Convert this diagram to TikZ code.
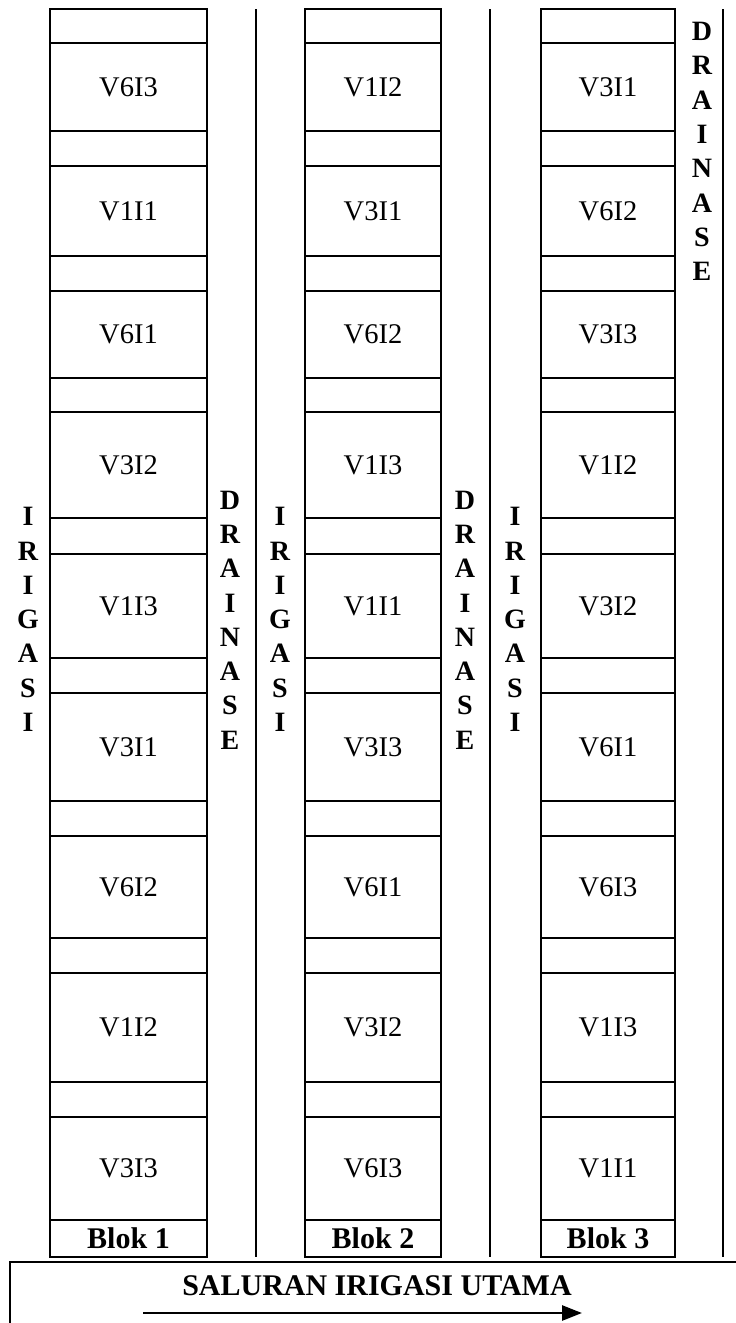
\documentclass[tikz,border=0pt]{standalone}
\usepackage{fontspec}
\setmainfont{Liberation Serif}
\usepackage{tikz}
\usetikzlibrary{arrows.meta}

\begin{document}
\begin{tikzpicture}[x=1pt, y=-1pt,
  plotlbl/.style={font=\fontsize{28.5}{28.5}\selectfont},
  vlbl/.style={font=\bfseries\fontsize{28}{34.3}\selectfont, align=center, inner sep=0pt},
  bloklbl/.style={font=\bfseries\fontsize{30}{30}\selectfont}]
\useasboundingbox (0,0) rectangle (736,1323);
\clip (0,0) rectangle (736,1323);
% blocks with plots
\foreach \b/\xl/\xr/\names in {
    1/50/207/{V6I3,V1I1,V6I1,V3I2,V1I3,V3I1,V6I2,V1I2,V3I3},
    2/305/441/{V1I2,V3I1,V6I2,V1I3,V1I1,V3I3,V6I1,V3I2,V6I3},
    3/541/675/{V3I1,V6I2,V3I3,V1I2,V3I2,V6I1,V6I3,V1I3,V1I1}} {
  \draw[line width=1.4pt] (\xl,9) rectangle (\xr,1257);
  \foreach \y in {43,131,166,256,291,378,412,518,554,658,693,801,836,938,973,1082,1117,1220}
    \draw[line width=1.3pt] (\xl,\y) -- (\xr,\y);
  \foreach \n [count=\i] in \names {
    \pgfmathsetmacro\yc{{87,211,334.5,465,606,747,887,1027.5,1168.5}[\i-1]}
    \node[plotlbl] (b\b-\i) at ({(\xl+\xr)/2},\yc) {\n};
  }
  \node[bloklbl] (blok\b) at ({(\xl+\xr)/2},1238.5) {Blok \b};
}
% channels
\foreach \x in {256,490,723}
  \draw[line width=1.8pt] (\x,9) -- (\x,1257);
\node[vlbl] (irg1) at (28,619.5) {I\\R\\I\\G\\A\\S\\I};
\node[vlbl] (drn1) at (230,620) {D\\R\\A\\I\\N\\A\\S\\E};
\node[vlbl] (irg2) at (280,619.5) {I\\R\\I\\G\\A\\S\\I};
\node[vlbl] (drn2) at (465,620) {D\\R\\A\\I\\N\\A\\S\\E};
\node[vlbl] (irg3) at (515,619.5) {I\\R\\I\\G\\A\\S\\I};
\node[vlbl] (drn3) at (702,151.5) {D\\R\\A\\I\\N\\A\\S\\E};
% main canal
\draw[line width=1.4pt] (750,1262) -| (10,1340);
\node[font=\bfseries\fontsize{30}{30}\selectfont] (utama) at (377,1286) {SALURAN IRIGASI UTAMA};
\coordinate (flowA) at (143,1313);
\coordinate (flowB) at (582,1313);
\draw[line width=2.6pt, -{Triangle[length=20pt,width=15pt]}] (flowA) -- (flowB);
\end{tikzpicture}
\end{document}
